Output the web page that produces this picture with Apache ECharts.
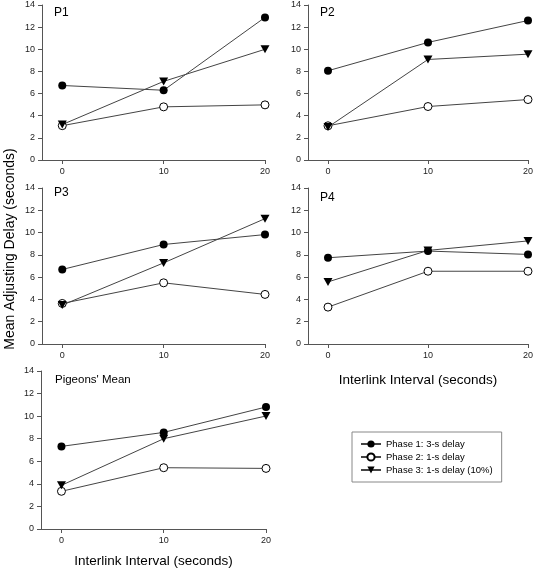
<!DOCTYPE html>
<html>
<head>
<meta charset="utf-8">
<script src="https://cdn.jsdelivr.net/npm/echarts@6/dist/echarts.min.js"></script>
<style>html,body{margin:0;padding:0;background:#fff}#c{width:536px;height:571px}</style>
</head>
<body>
<div id="c"></div>
<script>
const intervals = [0, 10, 20];
const yTicks = [0, 2, 4, 6, 8, 10, 12, 14];
const panelNames = ['P1', 'P2', 'P3', 'P4', "Pigeons' Mean"];
const seriesNames = ['Phase 1: 3-s delay', 'Phase 2: 1-s delay', 'Phase 3: 1-s delay (10%)'];

const p1_phase1 = [6.73, 6.3, 12.88];
const p1_phase2 = [3.1, 4.8, 4.98];
const p1_phase3 = [3.2, 7.1, 10.0];

const p2_phase1 = [8.06, 10.62, 12.6];
const p2_phase2 = [3.09, 4.83, 5.46];
const p2_phase3 = [2.97, 9.08, 9.56];

const p3_phase1 = [6.69, 8.93, 9.82];
const p3_phase2 = [3.64, 5.49, 4.45];
const p3_phase3 = [3.49, 7.28, 11.25];

const p4_phase1 = [7.74, 8.34, 8.04];
const p4_phase2 = [3.31, 6.53, 6.53];
const p4_phase3 = [5.57, 8.4, 9.25];

const mean_phase1 = [7.32, 8.56, 10.81];
const mean_phase2 = [3.34, 5.43, 5.37];
const mean_phase3 = [3.87, 8.0, 10.01];

const panelData = [
  [p1_phase1, p1_phase2, p1_phase3],
  [p2_phase1, p2_phase2, p2_phase3],
  [p3_phase1, p3_phase2, p3_phase3],
  [p4_phase1, p4_phase2, p4_phase3],
  [mean_phase1, mean_phase2, mean_phase3]
];

const grids = [
  {left: 42, top: 5, width: 223, height: 155},
  {left: 308, top: 5, width: 222, height: 155},
  {left: 42, top: 188, width: 223, height: 156},
  {left: 308, top: 188, width: 222, height: 156},
  {left: 41, top: 371, width: 225, height: 158}
];
const labelPos = [[54, 7], [320, 7], [54, 187], [320, 192], [55, 374]];

const axisColor = '#555';
const fontFam = 'Liberation Sans, Arial, sans-serif';
const downTri = 'path://M0,0 L10,0 L5,9 Z';

const xAxes = [], yAxes = [], series = [], titles = [];
grids.forEach((g, i) => {
  const xa = {
    gridIndex: i, type: 'value', min: -2, max: 20,
    axisLine: {show: true, onZero: false, lineStyle: {color: axisColor, width: 1}},
    axisTick: {show: true, customValues: intervals, length: 4, lineStyle: {color: axisColor}},
    axisLabel: {customValues: intervals, fontSize: 9, color: '#222', fontFamily: fontFam, margin: 7},
    splitLine: {show: false}
  };
  if (i === 3 || i === 4) {
    xa.name = 'Interlink Interval (seconds)';
    xa.nameLocation = 'middle';
    xa.nameGap = i === 3 ? 29 : 25;
    xa.nameTextStyle = {fontSize: 13.5, color: '#000', fontFamily: fontFam};
  }
  xAxes.push(xa);
  yAxes.push({
    gridIndex: i, type: 'value', min: 0, max: 14, interval: 2,
    axisLine: {show: true, onZero: false, lineStyle: {color: axisColor, width: 1}},
    axisTick: {show: true, length: 4, lineStyle: {color: axisColor}},
    axisLabel: {fontSize: 9, color: '#222', fontFamily: fontFam, margin: 7},
    splitLine: {show: false}
  });
  titles.push({
    text: panelNames[i], left: labelPos[i][0], top: labelPos[i][1], padding: 0,
    textStyle: {fontSize: i === 4 ? 11.5 : 12, fontWeight: 'normal', color: '#000', fontFamily: fontFam}
  });
  const symbols = ['circle', 'circle', downTri];
  panelData[i].forEach((vals, s) => {
    series.push({
      name: seriesNames[s], type: 'line', xAxisIndex: i, yAxisIndex: i,
      data: intervals.map((x, k) => [x, vals[k]]),
      symbol: symbols[s], symbolSize: s === 2 ? [9, 8] : 8,
      lineStyle: {color: '#444', width: 1},
      itemStyle: {color: s === 1 ? '#fff' : '#000', borderColor: '#000', borderWidth: s === 1 ? 1 : 0},
      emphasis: {disabled: true},
      animation: false
    });
  });
});

const chart = echarts.init(document.getElementById('c'), null, {renderer: 'canvas'});
chart.setOption({
  backgroundColor: '#fff',
  animation: false,
  title: titles,
  grid: grids,
  xAxis: xAxes,
  yAxis: yAxes,
  series: series,
  legend: {
    data: seriesNames,
    left: 352, top: 432,
    orient: 'vertical',
    padding: [7, 9, 7, 8],
    itemGap: 3,
    itemWidth: 20, itemHeight: 9,
    borderColor: '#888', borderWidth: 1,
    textStyle: {fontSize: 9.5, color: '#000', fontFamily: fontFam},
    selectedMode: false
  },
  graphic: [{
    type: 'text', x: 10, y: 249, rotation: Math.PI / 2,
    style: {text: 'Mean Adjusting Delay (seconds)', fontSize: 14, fill: '#000', fontFamily: fontFam, align: 'center', verticalAlign: 'middle'}
  }]
});
</script>
</body>
</html>
